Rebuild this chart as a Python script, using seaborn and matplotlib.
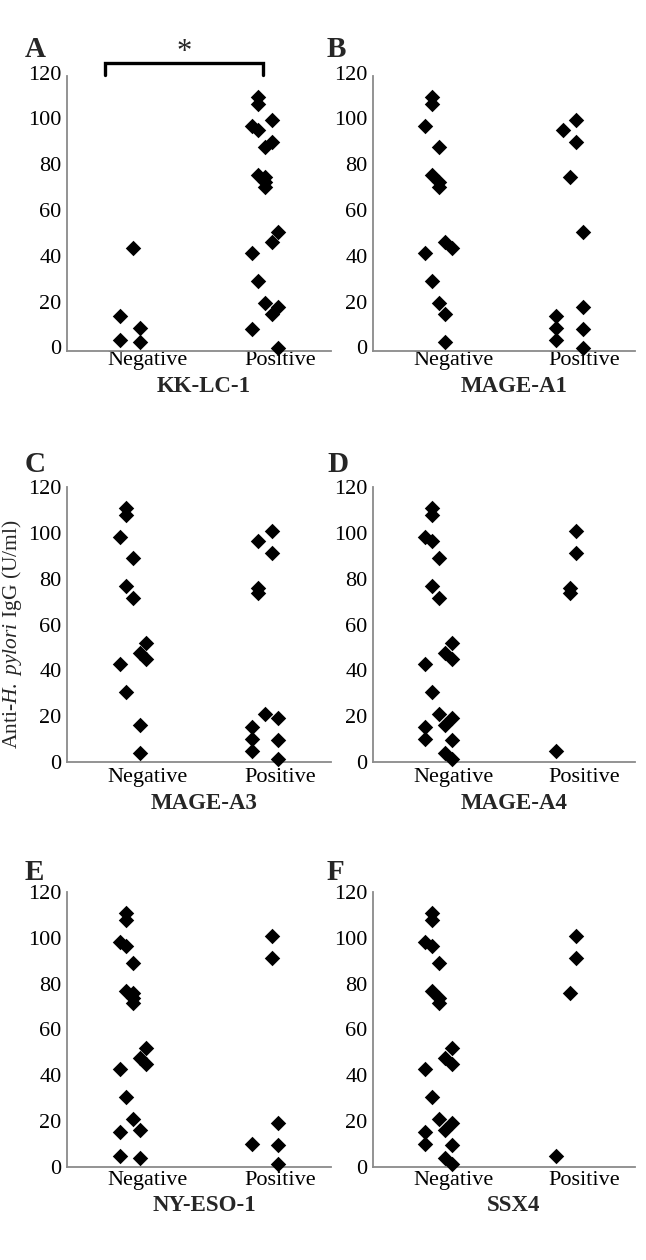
import numpy as np
import pandas as pd
import matplotlib
matplotlib.use('Agg')
import matplotlib.pyplot as plt
import matplotlib.transforms as mtransforms
import seaborn as sns

# 患者ごとの抗H. pylori IgG (U/ml)
igg = [110.7, 107.8, 100.8, 98.2, 96.4, 91.3, 89.2, 76.8, 76.1, 73.9, 71.4,
       51.8, 47.7, 44.8, 42.6, 30.5, 21.1, 19.3, 16.1, 15.3, 9.9, 9.5,
       4.8, 4.1, 1.2]

antigens = ['KK-LC-1', 'MAGE-A1', 'MAGE-A3', 'MAGE-A4', 'NY-ESO-1', 'SSX4']
panel_letters = ['A', 'B', 'C', 'D', 'E', 'F']
categories = ['Negative', 'Positive']
yticks = [0, 20, 40, 60, 80, 100, 120]

# 抗体 陽性=1 / 陰性=0
status_kklc1 = [1, 1, 1, 1, 1, 1, 1, 1, 1, 1, 1, 1, 1, 0, 1, 1, 1, 1, 1, 0, 0, 1, 0, 0, 1]
status_magea1 = [0, 0, 1, 0, 1, 1, 0, 0, 1, 0, 0, 1, 0, 0, 0, 0, 0, 1, 0, 1, 1, 1, 1, 0, 1]
status_magea3 = [0, 0, 1, 0, 1, 1, 0, 0, 1, 1, 0, 0, 0, 0, 0, 0, 1, 1, 0, 1, 1, 1, 1, 0, 1]
status_magea4 = [0, 0, 1, 0, 0, 1, 0, 0, 1, 1, 0, 0, 0, 0, 0, 0, 0, 0, 0, 0, 0, 0, 1, 0, 0]
status_nyeso1 = [0, 0, 1, 0, 0, 1, 0, 0, 0, 0, 0, 0, 0, 0, 0, 0, 0, 1, 0, 0, 1, 1, 0, 0, 1]
status_ssx4 = [0, 0, 1, 0, 0, 1, 0, 0, 1, 0, 0, 0, 0, 0, 0, 0, 0, 0, 0, 0, 0, 0, 1, 0, 0]

# 重なりを避けるための横ずらし (列番号)
slot_kklc1 = [-1, -1, 1, -2, -1, 1, 0, -1, 0, 0, 0, 2, 1, 0, -2, -1, 0, 2, 1, -2, 1, -2, -2, 1, 2]
slot_magea1 = [-1, -1, 1, -2, -1, 1, 0, -1, 0, 0, 0, 2, 1, 2, -2, -1, 0, 2, 1, -2, -2, 2, -2, 1, 2]
slot_magea3 = [-1, -1, 1, -2, -1, 1, 0, -1, -1, -1, 0, 2, 1, 2, -2, -1, 0, 2, 1, -2, -2, 2, -2, 1, 2]
slot_magea4 = [-1, -1, 1, -2, -1, 1, 0, -1, 0, 0, 0, 2, 1, 2, -2, -1, 0, 2, 1, -2, -2, 2, -2, 1, 2]
slot_nyeso1 = [-1, -1, 1, -2, -1, 1, 0, -1, 0, 0, 0, 2, 1, 2, -2, -1, 0, 2, 1, -2, -2, 2, -2, 1, 2]
slot_ssx4 = [-1, -1, 1, -2, -1, 1, 0, -1, 0, 0, 0, 2, 1, 2, -2, -1, 0, 2, 1, -2, -2, 2, -2, 1, 2]

statuses = [status_kklc1, status_magea1, status_magea3, status_magea4, status_nyeso1, status_ssx4]
slots = [slot_kklc1, slot_magea1, slot_magea3, slot_magea4, slot_nyeso1, slot_ssx4]

rows = []
for name, st, sl in zip(antigens, statuses, slots):
    for v, s, k in zip(igg, st, sl):
        rows.append({'antigen': name, 'igg': v, 'status': s, 'slot': k})
df = pd.DataFrame(rows)
df['xpos'] = df['status'] + df['slot'] * 0.05

sns.set_style('white')
plt.rcParams['font.family'] = ['Liberation Serif', 'DejaVu Serif']
plt.rcParams['mathtext.fontset'] = 'custom'
plt.rcParams['mathtext.rm'] = 'Liberation Serif'
plt.rcParams['mathtext.it'] = 'Liberation Serif:italic'

W, H = 646, 1260
fig = plt.figure(figsize=(W / 100, H / 100), dpi=100)

# レイアウト (ピクセル)
col_left = [67, 373]
col_width = [264, 262]
row_zero = [351, 762, 1167]
ax_h = 275
tick_pad = [0.3, 4.6, 2.6]
ylab_shift = [3.5, 0, 0]
xlabel_y = [-41, -47, -44]
letter_x = [25, 327]
letter_base = [57, 472, 880]

axis_gray = '#8a8a8a'
fs = 16

for i, name in enumerate(antigens):
    r, c = divmod(i, 2)
    ax = fig.add_axes([col_left[c] / W, 1 - row_zero[r] / H, col_width[c] / W, ax_h / H])
    sub = df[df['antigen'] == name]
    sns.scatterplot(data=sub, x='xpos', y='igg', marker='D', s=62, color='black',
                    linewidth=0, ax=ax, clip_on=False, legend=False, zorder=3)

    ax.set_xlim(-0.5, 1.5)
    ax.set_ylim(0, 120)
    ax.set_yticks(yticks)
    ax.set_xticks([0, 1])
    ax.set_xticklabels(categories)
    ax.set_xticks([-0.5, 0.5, 1.5], minor=True)
    ax.set_ylabel('')
    ax.set_xlabel('')

    for sp in ['top', 'right']:
        ax.spines[sp].set_visible(False)
    for sp in ['left', 'bottom']:
        ax.spines[sp].set_color(axis_gray)
        ax.spines[sp].set_linewidth(1.3)

    ax.tick_params(axis='y', direction='out', length=3.6, width=1.1, color=axis_gray,
                   labelsize=fs, labelcolor='black', pad=0.2)
    ax.tick_params(axis='x', which='major', length=0, labelsize=fs,
                   labelcolor='black', pad=tick_pad[r])
    ax.tick_params(axis='x', which='minor', direction='in', length=3.6, width=1.1,
                   color=axis_gray)

    # Excel風のラベル位置ずれ
    up = mtransforms.ScaledTranslation(0, ylab_shift[r] / 100, fig.dpi_scale_trans)
    for lab in ax.get_yticklabels():
        lab.set_transform(lab.get_transform() + up)
    right = mtransforms.ScaledTranslation(15 / 100, 0, fig.dpi_scale_trans)
    for lab in ax.get_xticklabels():
        lab.set_transform(lab.get_transform() + right)

    ax.text(0.5 + (5 + 5 * c) / col_width[c], xlabel_y[r] / ax_h, name,
            transform=ax.transAxes, ha='center', va='baseline',
            fontsize=16.5, fontweight='bold')

    fig.text(letter_x[c] / W, 1 - letter_base[r] / H, panel_letters[i],
             ha='left', va='baseline', fontsize=21, fontweight='bold')

    if i == 0:
        ax.plot([-0.21, -0.21, 0.985, 0.985], [120.5, 125.7, 125.7, 120.5],
                color='black', lw=2.4, clip_on=False, solid_joinstyle='miter')
        ax.text(0.39, 127.0, '*', ha='center', va='baseline', fontsize=22)

    if i == 2:
        ax.text((12 - col_left[c]) / col_width[c], (row_zero[r] - 634) / ax_h,
                r'Anti-$\mathit{H.\ pylori}$ IgG (U/ml)', transform=ax.transAxes,
                rotation=90, ha='center', va='center', fontsize=15.5)

fig.savefig('out.png', dpi=100, facecolor='white')
